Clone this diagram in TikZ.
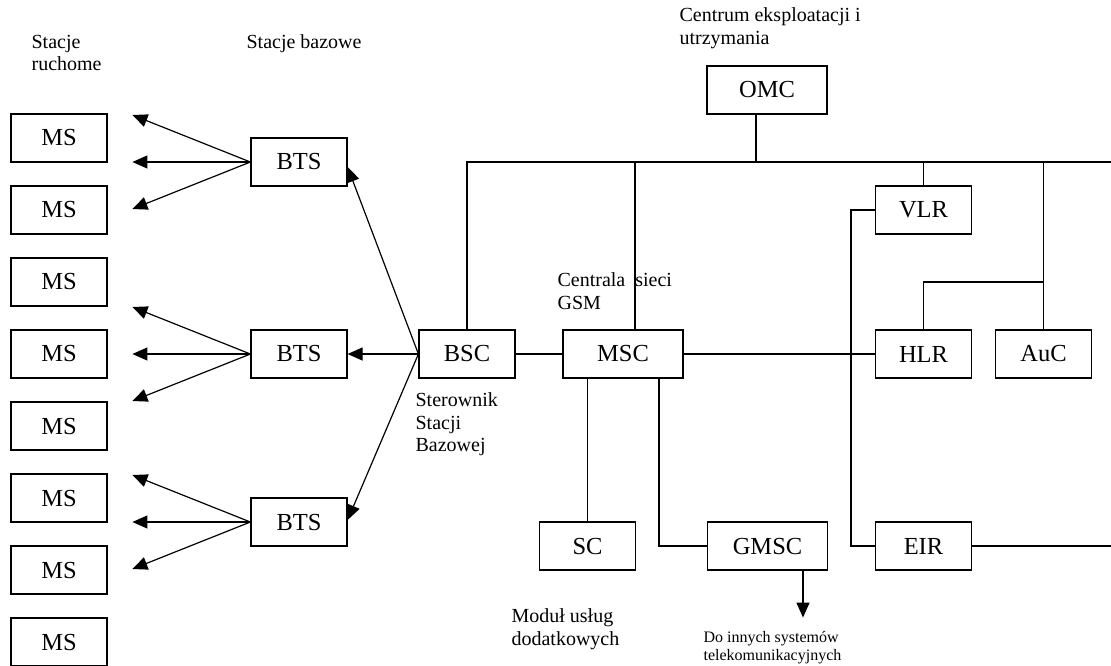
\documentclass[tikz,border=0pt]{standalone}
\usepackage{fontspec}
\setmainfont{Liberation Serif}
\usetikzlibrary{arrows.meta}
\begin{document}
\begin{tikzpicture}[x=1pt,y=-1pt,
  every path/.style={line width=1.2pt},
  box/.style={draw,line width=1.2pt,minimum width=96pt,minimum height=48pt,inner sep=0pt,font=\fontsize{24.5}{28}\selectfont},
  wbox/.style={box,minimum width=120pt},
  lbl/.style={anchor=north west,inner sep=0pt,align=left,font=\fontsize{20}{22.5}\selectfont},
  slbl/.style={anchor=north west,inner sep=0pt,align=left,font=\fontsize{16}{18}\selectfont},
  arr/.style={-{Triangle[length=15pt,width=13pt]},line width=1.2pt}]
\useasboundingbox (0,0) rectangle (1111,665);
% labels
\node[lbl] (lms) at (31,34.5) {Stacje\\ruchome};
\node[lbl] (lbts) at (246,34.5) {Stacje bazowe};
\node[lbl] (lomc) at (679,7.5) {Centrum eksploatacji i\\utrzymania};
\node[lbl] (lmsc) at (557,272.5) {Centrala \ sieci\\GSM};
\node[lbl] (lbsc) at (415,392.5) {Sterownik\\Stacji\\Bazowej};
\node[lbl] (lsc) at (511,608.5) {Modu\l{} us\l{}ug\\dodatkowych};
\node[slbl] (lgm) at (703,631) {Do innych systemów\\telekomunikacyjnych};
% MS boxes
\node[box] (ms1) at (59,138) {MS};
\node[box] (ms2) at (59,210) {MS};
\node[box] (ms3) at (59,282) {MS};
\node[box] (ms4) at (59,354) {MS};
\node[box] (ms5) at (59,426) {MS};
\node[box] (ms6) at (59,498) {MS};
\node[box] (ms7) at (59,570) {MS};
\node[box] (ms8) at (59,642) {MS};
% BTS
\node[box] (bts1) at (299,162) {BTS};
\node[box] (bts2) at (299,354) {BTS};
\node[box] (bts3) at (299,522) {BTS};
% core
\node[box] (bsc) at (467,354) {BSC};
\node[wbox] (msc) at (623,354) {MSC};
\node[wbox] (omc) at (767,90) {OMC};
\node[box] (vlr) at (923.5,210) {VLR};
\node[box] (hlr) at (923.5,354) {HLR};
\node[box] (auc) at (1043.5,354) {AuC};
\node[box] (sc) at (587.5,546) {SC};
\node[wbox] (gmsc) at (767.5,546) {GMSC};
\node[box] (eir) at (923.5,546) {EIR};
\coordinate (busR) at (1111,162);
\coordinate (eirR) at (1111,546);
\coordinate (hbr) at (1043.5,282);
% BTS -> MS arrows
\foreach \b in {bts1,bts2,bts3}{
  \draw[arr] (\b.west) -- ++(-118,-47);
  \draw[arr] (\b.west) -- ++(-118,0);
  \draw[arr] (\b.west) -- ++(-118,47);
}
% BSC -> BTS
\draw[arr] (bsc.west) -- ([yshift=-5pt]bts1.east);
\draw[arr] (bsc.west) -- (bts2.east);
\draw[arr] (bsc.west) -- ([yshift=2pt]bts3.east);
% bus
\draw (bsc.north) |- (busR);
\draw ([xshift=-11pt]omc.south) -- ([xshift=-11pt]omc.south |- busR);
\draw ([xshift=12pt]msc.north) -- ([xshift=12pt]msc.north |- busR);
\draw (vlr.north) -- (vlr.north |- busR);
\draw (auc.north) -- (auc.north |- busR);
\draw (hlr.north) |- (hbr);
% links
\draw (bsc.east) -- (msc.west);
\draw (msc.east) -- (hlr.west);
\draw (vlr.west) -- ++(-24,0) |- (eir.west);
\draw (eir.east) -- (eirR);
\draw (sc.north |- msc.south) -- (sc.north);
\draw ([xshift=36pt]msc.south) |- (gmsc.west);
\draw[arr] ([xshift=35.5pt]gmsc.south) -- ++(0,47);
\end{tikzpicture}
\end{document}
